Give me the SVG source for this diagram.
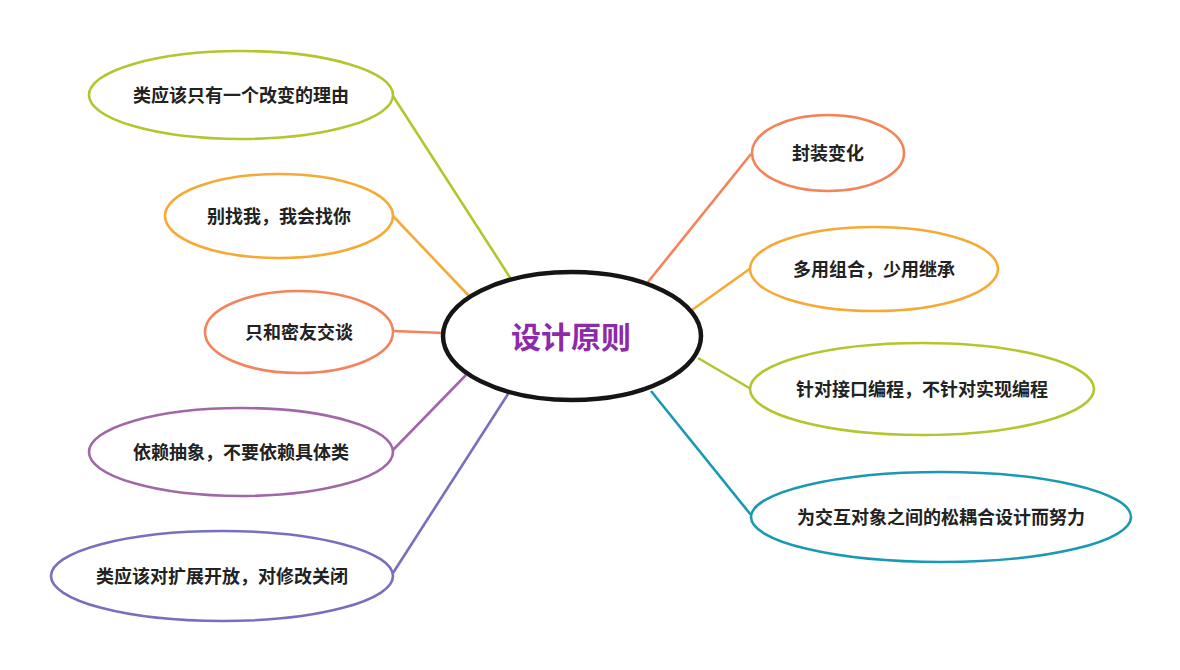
<svg xmlns="http://www.w3.org/2000/svg" width="1180" height="670" viewBox="0 0 1180 670">
<style>
.n{fill:#fff;stroke-width:2.6}
.t{font-family:"Noto Sans CJK SC","Liberation Sans",sans-serif;font-size:18px;font-weight:bold;fill:#222;text-anchor:middle;dominant-baseline:central}
.c{stroke-width:2.6;fill:none}
.g{stroke:#b4c52e}.o{stroke:#f6aa35}.s{stroke:#f5835a}.p{stroke:#a168a8}.b{stroke:#7670bf}.q{stroke:#1a99b5}
</style>
<rect width="1180" height="670" fill="#fff"/>
<g id="connectors">
<line class="c g" x1="393" y1="96" x2="511" y2="279"/>
<line class="c o" x1="393" y1="216" x2="469" y2="296"/>
<line class="c s" x1="393" y1="331" x2="444" y2="333"/>
<line class="c p" x1="393" y1="450" x2="466" y2="375"/>
<line class="c b" x1="393" y1="573" x2="508" y2="394"/>
<line class="c s" x1="751" y1="154" x2="648" y2="282"/>
<line class="c o" x1="751" y1="268" x2="692" y2="310"/>
<line class="c g" x1="751" y1="389" x2="698" y2="358"/>
<line class="c q" x1="751" y1="515" x2="651" y2="391"/>
</g>
<g id="center">
<ellipse cx="572" cy="336" rx="129" ry="64" fill="#fff" stroke="#151515" stroke-width="4.5"/>
<text x="571" y="335" class="t" style="font-size:30px;fill:#8e2aa9">设计原则</text>
</g>
<g id="n1"><ellipse class="n g" cx="241" cy="95" rx="152" ry="44"/><text class="t" x="241" y="93.5">类应该只有一个改变的理由</text></g>
<g id="n2"><ellipse class="n o" cx="279" cy="216" rx="114" ry="42"/><text class="t" x="279" y="214.5">别找我，我会找你</text></g>
<g id="n3"><ellipse class="n s" cx="299" cy="332" rx="94" ry="41"/><text class="t" x="299" y="330.5">只和密友交谈</text></g>
<g id="n4"><ellipse class="n p" cx="241" cy="452" rx="152" ry="44"/><text class="t" x="241" y="450.5">依赖抽象，不要依赖具体类</text></g>
<g id="n5"><ellipse class="n b" cx="222" cy="576" rx="171" ry="45"/><text class="t" x="222" y="574.5">类应该对扩展开放，对修改关闭</text></g>
<g id="n6"><ellipse class="n s" cx="828" cy="153" rx="76" ry="38"/><text class="t" x="828" y="152">封装变化</text></g>
<g id="n7"><ellipse class="n o" cx="874" cy="269" rx="124" ry="42"/><text class="t" x="874" y="267.5">多用组合，少用继承</text></g>
<g id="n8"><ellipse class="n g" cx="922" cy="389" rx="172" ry="46"/><text class="t" x="922" y="387.5">针对接口编程，不针对实现编程</text></g>
<g id="n9"><ellipse class="n q" cx="941" cy="517" rx="190" ry="45"/><text class="t" x="941" y="515.5">为交互对象之间的松耦合设计而努力</text></g>
</svg>
